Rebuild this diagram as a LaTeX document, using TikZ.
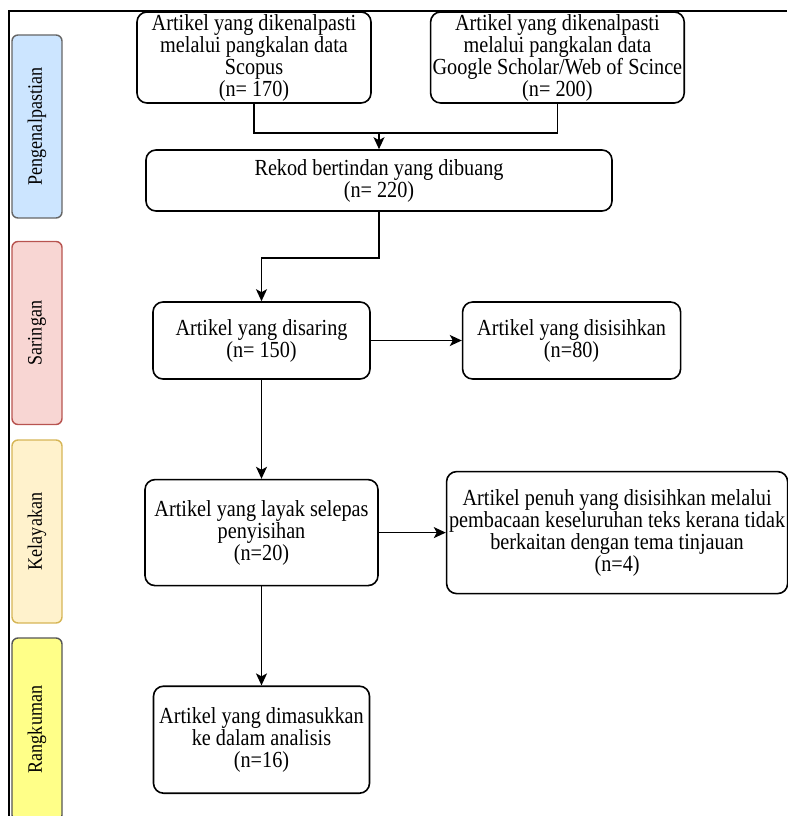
\documentclass[tikz,border=0pt]{standalone}
\usepackage{fontspec}
\setmainfont[FakeStretch=0.88]{Liberation Serif}
\usetikzlibrary{positioning,arrows.meta,calc}
\definecolor{stageBlue}{HTML}{CCE5FF}
\definecolor{stageBlueLine}{HTML}{666666}
\definecolor{stageRed}{HTML}{F8D6D3}
\definecolor{stageRedLine}{HTML}{B85450}
\definecolor{stageCream}{HTML}{FFF2CC}
\definecolor{stageCreamLine}{HTML}{D6B656}
\definecolor{stageYellow}{HTML}{FFFF88}
\definecolor{stageYellowLine}{HTML}{555555}

\begin{document}
\begin{tikzpicture}[
  x=1pt, y=-1pt,
  >={Stealth[length=12pt,width=11pt,inset=3pt]},
  %% Node styles
  box/.style={
    draw=black, fill=white, rounded corners=10pt,
    line width=1.6pt, align=center, inner sep=2pt,
    font=\fontsize{23}{22}\selectfont
  },
  stage/.style={
    rounded corners=6pt, line width=1.4pt, rotate=90,
    minimum width=183pt, minimum height=50pt, inner sep=0pt,
    font=\fontsize{20.5}{20}\selectfont
  },
  %% Arrow styles
  link/.style={line width=1.6pt, draw=black},
  arr/.style={->, line width=1.6pt, draw=black},
]
\useasboundingbox (0,0) rectangle (787,816);

%% ── Frame ──────────────────────────────────────────────────────────────────
\draw[line width=1.8pt] (9,816) -- (9,11) -- (787,11);

%% ── Stage labels ───────────────────────────────────────────────────────────
\node[stage, draw=stageBlueLine,   fill=stageBlue]   (sPengenal) at (37,126.5) {Pengenalpastian};
\node[stage, draw=stageRedLine,    fill=stageRed]    (sSaringan) at (37,333)   {Saringan};
\node[stage, draw=stageCreamLine,  fill=stageCream]  (sLayak)    at (37,531.5) {Kelayakan};
\node[stage, draw=stageYellowLine, fill=stageYellow] (sRangkum)  at (37,729.5) {Rangkuman};

%% ── Identification ─────────────────────────────────────────────────────────
\node[box, minimum width=234pt, minimum height=91pt] (scopus) at (254,57.5)
  {Artikel yang dikenalpasti\\melalui pangkalan data\\Scopus\\(n= 170)};
\node[box, minimum width=250pt, minimum height=91pt, right=58pt of scopus] (gs)
  {Artikel yang dikenalpasti\\melalui pangkalan data\\Google Scholar/Web of Scince\\(n= 200)};
\node[box, minimum width=466pt, minimum height=61pt] (rekod) at (379,180.5)
  {Rekod bertindan yang dibuang\\(n= 220)};

%% ── Screening ──────────────────────────────────────────────────────────────
\node[box, minimum width=217pt, minimum height=77pt] (disaring) at (261.5,340.5)
  {Artikel yang disaring\\(n= 150)};
\node[box, minimum width=218pt, minimum height=77pt, right=91pt of disaring] (disisih)
  {Artikel yang disisihkan\\(n=80)};

%% ── Eligibility ────────────────────────────────────────────────────────────
\node[box, minimum width=233pt, minimum height=106pt, below=99pt of disaring] (layak)
  {Artikel yang layak selepas\\penyisihan\\(n=20)};
\node[box, minimum width=341pt, minimum height=122pt, right=67pt of layak] (penuh)
  {Artikel penuh yang disisihkan melalui\\pembacaan keseluruhan teks kerana tidak\\berkaitan dengan tema tinjauan\\(n=4)};

%% ── Included ───────────────────────────────────────────────────────────────
\node[box, minimum width=216pt, minimum height=107pt, below=99pt of layak] (masuk)
  {Artikel yang dimasukkan\\ke dalam analisis\\(n=16)};

%% ── Connectors ─────────────────────────────────────────────────────────────
\coordinate (join) at ($(rekod.north)+(0,-16)$);
\draw[link] (scopus.south) |- (join) -| (gs.south);
\draw[arr]  (join) -- (rekod.north);
\draw[arr]  (rekod.south) -- ++(0,46) -| (disaring.north);
\draw[arr]  (disaring) -- (disisih);
\draw[arr]  (disaring) -- (layak);
\draw[arr]  (layak) -- (penuh);
\draw[arr]  (layak) -- (masuk);

\end{tikzpicture}
\end{document}
